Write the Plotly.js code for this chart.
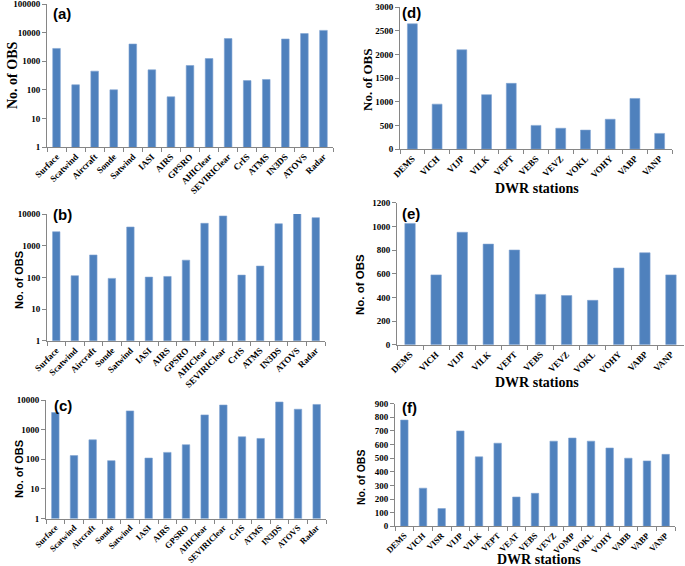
<!DOCTYPE html>
<html>
<head>
<meta charset="utf-8">
<script src="https://cdn.plot.ly/plotly-3.0.1.min.js"></script>
<style>html,body{margin:0;padding:0;background:#fff;}#chart{width:685px;height:566px;}</style>
</head>
<body>
<div id="chart"></div>
<script>
// ---- data ----
const obsTypes = ['Surface','Scatwind','Aircraft','Sonde','Satwind','IASI','AIRS','GPSRO','AHIClear','SEVIRIClear','CrIS','ATMS','IN3DS','ATOVS','Radar'];
const obsA = [2800,150,450,100,4000,500,57,710,1240,6200,210,230,6000,9300,12000];
const obsB = [2760,113,510,93,3900,102,107,350,5100,8700,118,228,4950,10500,7700];
const obsC = [3800,133,455,90,4300,110,171,310,3150,6800,575,505,8600,4900,7100];
const stations11 = ['DEMS','VICH','VIJP','VILK','VEPT','VEBS','VEVZ','VOKL','VOHY','VABP','VANP'];
const obsD = [2650,950,2100,1150,1390,500,440,400,630,1070,330];
const obsE = [1025,590,950,850,800,425,415,375,648,777,590];
const stations15 = ['DEMS','VICH','VISR','VIJP','VILK','VEPT','VEAT','VEBS','VEVZ','VOMP','VOKL','VOHY','VABB','VABP','VANP'];
const obsF = [780,280,130,700,510,610,215,242,625,648,625,575,500,480,528];
const panelLabels = ['(a)','(b)','(c)','(d)','(e)','(f)'];
const yTitle = 'No. of OBS';
const xTitle = 'DWR stations';

// ---- layout helpers ----
const W = 685, H = 566;
const px = v => v / W;
const py = v => 1 - v / H;
const BAR = '#4f81bd';
const AX = '#868686';
const serifB = {family: 'Liberation Serif, Times New Roman, serif', weight: 'bold', color: '#000'};
const sansB = {family: 'Liberation Sans, Arial, sans-serif', weight: 'bold', color: '#000'};

const panels = [
  {x: obsTypes, y: obsA, box: [47, 333, 4, 147], type: 'log', range: [0, 5.002], xf: 9},
  {x: obsTypes, y: obsB, box: [47, 325, 214, 340.7], type: 'log', range: [0, 4.002], xf: 9},
  {x: obsTypes, y: obsC, box: [46, 326, 400, 518.5], type: 'log', range: [0, 4.002], xf: 8.5},
  {x: stations11, y: obsD, box: [400, 672, 7.3, 149], type: 'linear', range: [0, 3000], dtick: 500, xf: 9},
  {x: stations11, y: obsE, box: [397, 684, 202.7, 344.7], type: 'linear', range: [0, 1200], dtick: 200, xf: 9},
  {x: stations15, y: obsF, box: [395, 675, 403.7, 526.3], type: 'linear', range: [0, 900], dtick: 100, xf: 8.5}
];

const data = [];
const layout = {
  width: W, height: H,
  margin: {l: 0, r: 0, t: 0, b: 0},
  paper_bgcolor: '#fff', plot_bgcolor: '#fff',
  showlegend: false,
  bargap: 0.6,
  annotations: []
};

panels.forEach((p, i) => {
  const n = i === 0 ? '' : String(i + 1);
  data.push({
    type: 'bar', x: p.x, y: p.y,
    xaxis: 'x' + n, yaxis: 'y' + n,
    marker: {color: BAR, line: {color: '#7fa3d1', width: 0.6}},
    hoverinfo: 'x+y'
  });
  layout['xaxis' + n] = {
    domain: [px(p.box[0]), px(p.box[1])],
    anchor: 'y' + n,
    type: 'category',
    showline: true, linecolor: AX, linewidth: 1,
    ticks: 'outside', ticklen: 4, tickcolor: AX, tickson: 'boundaries',
    showgrid: false, zeroline: false,
    tickangle: -45,
    ticklabeloverflow: 'allow',
    tickfont: Object.assign({size: p.xf}, serifB),
    automargin: false
  };
  const ya = {
    domain: [py(p.box[3]), py(p.box[2])],
    anchor: 'x' + n,
    type: p.type, range: p.range,
    showline: true, linecolor: AX, linewidth: 1,
    ticks: 'outside', ticklen: 4, tickcolor: AX,
    showgrid: false, zeroline: false,
    ticklabeloverflow: 'allow',
    tickfont: Object.assign({size: 9}, serifB),
    automargin: false
  };
  if (p.type === 'log') { ya.dtick = 1; ya.tickformat = 'd'; }
  else { ya.dtick = p.dtick; ya.tickformat = 'd'; }
  layout['yaxis' + n] = ya;
});

// panel labels
const labelPos = [[62, 14], [62, 214], [63, 405], [411, 12], [411, 213], [409, 407]];
labelPos.forEach((pp, i) => {
  layout.annotations.push({
    xref: 'paper', yref: 'paper', x: px(pp[0]), y: py(pp[1]),
    text: panelLabels[i], showarrow: false,
    xanchor: 'center', yanchor: 'middle',
    font: Object.assign({size: 15}, sansB)
  });
});

// y titles
const yTitles = [
  [12, 75, serifB, 14], [19, 280, sansB, 11], [19, 469, sansB, 11],
  [367, 80, serifB, 13], [360, 285, sansB, 11.5], [361, 477, sansB, 10.5]
];
yTitles.forEach(t => {
  layout.annotations.push({
    xref: 'paper', yref: 'paper', x: px(t[0]), y: py(t[1]),
    text: yTitle, showarrow: false, textangle: -90,
    xanchor: 'center', yanchor: 'middle',
    font: Object.assign({}, t[2], {size: t[3]})
  });
});

// x titles for DWR panels
[[537, 189], [537, 382], [539, 559]].forEach(t => {
  layout.annotations.push({
    xref: 'paper', yref: 'paper', x: px(t[0]), y: py(t[1]),
    text: xTitle, showarrow: false,
    xanchor: 'center', yanchor: 'middle',
    font: Object.assign({size: 14}, serifB)
  });
});

Plotly.newPlot('chart', data, layout, {displayModeBar: false, staticPlot: true});
</script>
</body>
</html>
